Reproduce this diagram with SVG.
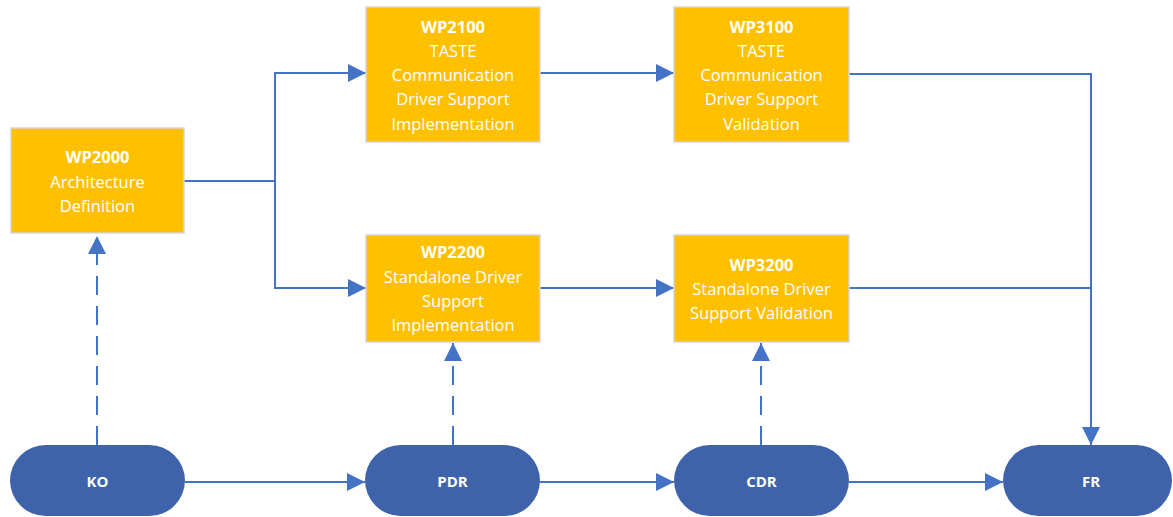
<svg xmlns="http://www.w3.org/2000/svg" width="1173" height="517" viewBox="0 0 1173 517">
<style>
.box{fill:#FFC000;stroke:#D6D6D6;stroke-width:1.5}
.pill{fill:#3F63AB}
.t{font-family:"Open Sans","Noto Sans",sans-serif;font-size:16.5px;fill:#FFFFFF;text-anchor:middle}
.b{font-weight:bold}
.pt{font-family:"Open Sans","Noto Sans",sans-serif;font-size:15px;font-weight:bold;fill:#FFFFFF;text-anchor:middle}
.c{fill:none;stroke:#4472C4;stroke-width:2}
.d{stroke-dasharray:19 11}
</style>
<defs>
<marker id="ah" markerUnits="userSpaceOnUse" markerWidth="18" markerHeight="18" viewBox="0 0 18 18" refX="18" refY="9" orient="auto">
<path d="M0,0 L18,9 L0,18 Z" fill="#4472C4"/>
</marker>
</defs>
<g id="connectors">
<path class="c" d="M184,181 H275"/>
<path class="c" d="M275,181 V73 H366" marker-end="url(#ah)"/>
<path class="c" d="M275,181 V288 H366" marker-end="url(#ah)"/>
<path class="c" d="M540,73 H674" marker-end="url(#ah)"/>
<path class="c" d="M540,288 H674" marker-end="url(#ah)"/>
<path class="c" d="M849,74 H1091 V445" marker-end="url(#ah)"/>
<path class="c" d="M849,288 H1091"/>
<path class="c" d="M185,482 H365" marker-end="url(#ah)"/>
<path class="c" d="M540,482 H674" marker-end="url(#ah)"/>
<path class="c" d="M849,482 H1003" marker-end="url(#ah)"/>
<path class="c d" d="M97,445 V236" marker-end="url(#ah)"/>
<path class="c d" d="M453,445 V343" marker-end="url(#ah)"/>
<path class="c d" d="M761,445 V343" marker-end="url(#ah)"/>
</g>
<g id="wp2000">
<rect class="box" x="11" y="128" width="173" height="105"/>
<text class="t b" x="97.5" y="163">WP2000</text>
<text class="t" x="97.5" y="188">Architecture</text>
<text class="t" x="97.5" y="212">Definition</text>
</g>
<g id="wp2100">
<rect class="box" x="366" y="7" width="174" height="135"/>
<text class="t b" x="453" y="32.5">WP2100</text>
<text class="t" x="453" y="56.8">TASTE</text>
<text class="t" x="453" y="81.1">Communication</text>
<text class="t" x="453" y="105.4">Driver Support</text>
<text class="t" x="453" y="129.7">Implementation</text>
</g>
<g id="wp3100">
<rect class="box" x="674" y="7" width="175" height="135"/>
<text class="t b" x="761.5" y="32.5">WP3100</text>
<text class="t" x="761.5" y="56.8">TASTE</text>
<text class="t" x="761.5" y="81.1">Communication</text>
<text class="t" x="761.5" y="105.4">Driver Support</text>
<text class="t" x="761.5" y="129.7">Validation</text>
</g>
<g id="wp2200">
<rect class="box" x="366" y="235" width="174" height="107"/>
<text class="t b" x="453" y="258">WP2200</text>
<text class="t" x="453" y="283">Standalone Driver</text>
<text class="t" x="453" y="307">Support</text>
<text class="t" x="453" y="331">Implementation</text>
</g>
<g id="wp3200">
<rect class="box" x="674" y="235" width="175" height="107"/>
<text class="t b" x="761.5" y="271">WP3200</text>
<text class="t" x="761.5" y="295">Standalone Driver</text>
<text class="t" x="761.5" y="319">Support Validation</text>
</g>
<g id="ko">
<rect class="pill" x="10" y="445" width="175" height="71" rx="35.5"/>
<text class="pt" x="97.5" y="486.5">KO</text>
</g>
<g id="pdr">
<rect class="pill" x="365" y="445" width="175" height="71" rx="35.5"/>
<text class="pt" x="452.5" y="486.5">PDR</text>
</g>
<g id="cdr">
<rect class="pill" x="674" y="445" width="175" height="71" rx="35.5"/>
<text class="pt" x="761.5" y="486.5">CDR</text>
</g>
<g id="fr">
<rect class="pill" x="1003" y="445" width="169" height="71" rx="35.5"/>
<text class="pt" x="1091" y="486.5">FR</text>
</g>
</svg>
